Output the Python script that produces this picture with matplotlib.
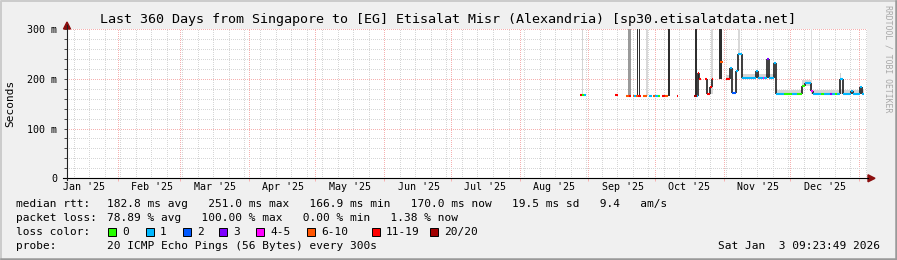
import matplotlib
matplotlib.use("Agg")
import matplotlib.pyplot as plt
from matplotlib.lines import Line2D
from matplotlib.patches import Rectangle, Polygon
import pandas as pd

plt.rcParams["font.family"] = ["DejaVu Sans Mono"]

W, H = 897, 260

# loss colour legend
loss_labels = ["0", "1", "2", "3", "4-5", "6-10", "11-19", "20/20"]
loss_colors = ["#26ff00", "#00b8ff", "#0059ff", "#7e00ff",
               "#ff00ff", "#ff5500", "#ff0000", "#a10000"]

# median rtt, drawn as segments (ms) coloured by loss index
seg_start = ["2025-08-28 08", "2025-08-29 00", "2025-08-29 20", "2025-09-12 22",
             "2025-09-18 04", "2025-09-19 12", "2025-09-20 22", "2025-09-21 14",
             "2025-09-22 08", "2025-09-23 12", "2025-09-25 16", "2025-09-28 04",
             "2025-09-30 02", "2025-10-01 00", "2025-10-02 08", "2025-10-04 04",
             "2025-10-05 12", "2025-10-10 22", "2025-10-18 12", "2025-10-19 20",
             "2025-10-20 08", "2025-10-21 02", "2025-10-23 12", "2025-10-24 10",
             "2025-10-26 00", "2025-10-26 14", "2025-10-30 06", "2025-11-02 00",
             "2025-11-04 00", "2025-11-04 20", "2025-11-06 12", "2025-11-07 10",
             "2025-11-09 06", "2025-11-15 18", "2025-11-16 12", "2025-11-18 12",
             "2025-11-19 06", "2025-11-20 12", "2025-11-21 12", "2025-11-23 12",
             "2025-11-24 12", "2025-11-28 00", "2025-12-02 00", "2025-12-04 00",
             "2025-12-06 12", "2025-12-07 18", "2025-12-10 12", "2025-12-11 04",
             "2025-12-15 00", "2025-12-16 00", "2025-12-19 00", "2025-12-19 16",
             "2025-12-21 00", "2025-12-22 00", "2025-12-23 10", "2025-12-24 16",
             "2025-12-28 10", "2025-12-29 06", "2026-01-01 12", "2026-01-02 06"]
seg_end = ["2025-08-29 00", "2025-08-29 20", "2025-08-31 00", "2025-09-14 04",
           "2025-09-19 12", "2025-09-20 10", "2025-09-21 14", "2025-09-22 08",
           "2025-09-23 12", "2025-09-24 12", "2025-09-27 14", "2025-09-29 16",
           "2025-10-01 00", "2025-10-02 08", "2025-10-03 02", "2025-10-05 12",
           "2025-10-07 00", "2025-10-11 12", "2025-10-19 20", "2025-10-20 08",
           "2025-10-21 02", "2025-10-21 20", "2025-10-24 10", "2025-10-26 00",
           "2025-10-26 14", "2025-10-27 04", "2025-10-31 12", "2025-11-04 00",
           "2025-11-04 20", "2025-11-06 12", "2025-11-07 10", "2025-11-09 06",
           "2025-11-15 18", "2025-11-16 12", "2025-11-18 12", "2025-11-19 06",
           "2025-11-20 12", "2025-11-21 12", "2025-11-23 12", "2025-11-24 12",
           "2025-11-28 00", "2025-12-02 00", "2025-12-04 00", "2025-12-06 12",
           "2025-12-07 18", "2025-12-10 12", "2025-12-11 04", "2025-12-15 00",
           "2025-12-16 00", "2025-12-19 00", "2025-12-19 16", "2025-12-21 00",
           "2025-12-22 00", "2025-12-23 10", "2025-12-24 16", "2025-12-28 10",
           "2025-12-29 06", "2026-01-01 12", "2026-01-02 06", "2026-01-03 09"]
seg_rtt = [167, 167, 167, 167, 166, 166, 166, 166, 166, 166, 166, 166,
           166, 166, 166, 166, 166, 166, 166, 165, 212, 200, 200, 169,
           183, 200, 233, 200, 222, 172, 216, 249, 201, 216, 201, 201,
           201, 240, 201, 232, 169, 169, 169, 169, 186, 192, 176, 169,
           169, 169, 169, 169, 169, 169, 200, 169, 176, 169, 184, 170]
seg_loss = [6, 0, 1, 6, 5, 6, 5, 1, 5, 6, 5, 1,
            5, 1, 0, 6, 5, 6, 7, 1, 6, 6, 6, 6,
            6, 6, 5, 6, 1, 2, 1, 1, 1, 1, 1, 4,
            1, 3, 1, 1, 1, 0, 1, 0, 0, 1, 4, 1,
            0, 1, 3, 1, 0, 1, 1, 1, 1, 1, 1, 1]

# tall smoke columns (pings far above the median)
spike_start = ["2025-08-29 06", "2025-09-19 00", "2025-09-22 20", "2025-09-23 18",
               "2025-09-26 18", "2025-10-07 00", "2025-10-18 20", "2025-10-26 08",
               "2025-10-30 00", "2025-11-07 12", "2025-12-10 06", "2025-12-23 12"]
spike_end = ["2025-08-29 18", "2025-09-20 10", "2025-09-23 08", "2025-09-24 06",
             "2025-09-27 16", "2025-10-07 20", "2025-10-20 00", "2025-10-27 08",
             "2025-10-31 10", "2025-11-08 04", "2025-12-10 20", "2025-12-24 00"]
spike_low = [167, 166, 166, 166, 166, 166, 166, 169, 200, 249, 176, 200]
spike_high = [300, 300, 300, 300, 300, 300, 300, 300, 300, 300, 300, 212]
spike_shade = ["#d4d4d4", "#9a9a9a", "#333333", "#333333", "#d8d8d8", "#2e2e2e",
               "#2e2e2e", "#d8d8d8", "#2e2e2e", "#d8d8d8", "#dcdcdc", "#d0d0d0"]

# light smoke band just above the median
smoke_start = ["2025-11-02 00", "2025-11-09 06", "2025-11-24 12", "2025-12-06 12", "2025-12-10 12"]
smoke_end = ["2025-11-04 00", "2025-11-24 12", "2025-12-06 12", "2025-12-10 12", "2026-01-03 09"]
smoke_low = [200, 201, 169, 186, 169]
smoke_high = [207, 210, 177, 197, 177]

y_ticks = [0, 100, 200, 300]
y_labels = ["0", "100 m", "200 m", "300 m"]


def px(x, y):
    return x / W, 1 - y / H


fig = plt.figure(figsize=(W / 100, H / 100), dpi=100, facecolor="#f0f0f0")
x0, y0 = 67, 178.3
ax = fig.add_axes([x0 / W, 1 - y0 / H, 800 / W, (y0 - 29) / H])
ax.set_facecolor("white")
t0 = pd.Timestamp("2025-01-09 00:00")
t1 = pd.Timestamp("2026-01-04 14:00")
ax.set_xlim(t0, t1)
ax.set_ylim(0, 300)
for s in ax.spines.values():
    s.set_visible(False)

# grid
dot = (0, (1, 2))
minor_c, major_c = "#d6d6d6", "#f6b0b0"
month_starts = pd.date_range("2025-02-01", "2026-01-01", freq="MS")
weeks = pd.date_range(t0, t1, freq="W-SUN")
for d in weeks:
    ax.axvline(d, color=minor_c, lw=0.72, ls=dot, zorder=0, antialiased=False)
for d in month_starts:
    ax.axvline(d, color=major_c, lw=0.72, ls=dot, zorder=0, antialiased=False)
for v in range(20, 300, 20):
    if v % 100:
        ax.axhline(v, color=minor_c, lw=0.72, ls=dot, zorder=0, antialiased=False)
for v in (100, 200, 300):
    ax.axhline(v, color=major_c, lw=0.72, ls=dot, zorder=0, antialiased=False)

# smoke
for s, e, lo, hi in zip(smoke_start, smoke_end, smoke_low, smoke_high):
    ax.fill_between([pd.Timestamp(s), pd.Timestamp(e)], lo, hi,
                    color="#d6d6d6", lw=0, zorder=1)
for s, e, lo, hi, c in zip(spike_start, spike_end, spike_low, spike_high, spike_shade):
    ax.fill_between([pd.Timestamp(s), pd.Timestamp(e)], lo, hi,
                    color=c, lw=0, zorder=2)

# connectors between consecutive medians
for i in range(len(seg_rtt) - 1):
    if seg_end[i] == seg_start[i + 1] and seg_rtt[i] != seg_rtt[i + 1]:
        ax.vlines(pd.Timestamp(seg_end[i]), min(seg_rtt[i], seg_rtt[i + 1]),
                  max(seg_rtt[i], seg_rtt[i + 1]), color="#1e1e1e", lw=1.2, zorder=3)

# median coloured by loss
ax.hlines(seg_rtt, pd.to_datetime(seg_start), pd.to_datetime(seg_end),
          colors=[loss_colors[k] for k in seg_loss], lw=1.5, zorder=4,
          capstyle="butt")

# ticks
ax.set_yticks(y_ticks, y_labels)
ax.set_yticks(range(0, 301, 20), minor=True)
mid_months = pd.date_range("2025-01-01", "2025-12-01", freq="MS") + pd.Timedelta(days=15, hours=12)
ax.set_xticks(mid_months, [d.strftime("%b '%y") for d in mid_months])
ax.set_xticks(month_starts, minor=True)
ax.tick_params(axis="x", which="major", length=0, pad=3, labelsize=7.2)
ax.tick_params(axis="x", which="minor", length=2.2, width=0.72, direction="out", color=major_c)
ax.tick_params(axis="y", which="both", length=2.5, width=0.72, direction="out",
               pad=4.5, labelsize=7.2, color="#505050")

# axes lines and arrows
fig.add_artist(Line2D(*zip(px(63, y0), px(868, y0)), color="black", lw=0.8))
fig.add_artist(Line2D(*zip(px(x0, y0 + 2), px(x0, 25)), color="#202020", lw=0.8))
fig.add_artist(Polygon([px(868, y0 - 3.5), px(875, y0), px(868, y0 + 3.5)],
                       closed=True, color="#8b0e0e", transform=fig.transFigure))
fig.add_artist(Polygon([px(x0 - 3.5, 29), px(x0, 22), px(x0 + 3.5, 29)],
                       closed=True, color="#8b0e0e", transform=fig.transFigure))

# titles
fig.text(*px(447.5, 19), "Last 360 Days from Singapore to [EG] Etisalat Misr (Alexandria) [sp30.etisalatdata.net]",
         ha="center", va="center", fontsize=9.6)
fig.text(*px(10, 103), "Seconds", rotation=90, ha="center", va="center", fontsize=8)
fig.text(*px(888, 5), "RRDTOOL / TOBI OETIKER", rotation=270, ha="center", va="top",
         fontsize=5.9, color="#a8a8a8")

# legend
fs = 8
fig.text(*px(16, 204.3), "median rtt:", va="center", fontsize=fs)
fig.text(*px(107, 204.3), "182.8 ms avg   251.0 ms max   166.9 ms min   170.0 ms now   19.5 ms sd   9.4   am/s",
         va="center", fontsize=fs)
fig.text(*px(16, 218.3), "packet loss:", va="center", fontsize=fs)
fig.text(*px(107, 218.3), "78.89 % avg   100.00 % max   0.00 % min   1.38 % now",
         va="center", fontsize=fs)
fig.text(*px(16, 232.3), "loss color:", va="center", fontsize=fs)
box_x = [108, 146, 183, 219, 256, 307, 372, 430]
for bx, lab, col in zip(box_x, loss_labels, loss_colors):
    fig.add_artist(Rectangle(px(bx, 236.3), 8 / W, 8 / H, transform=fig.transFigure,
                             facecolor=col, edgecolor="black", lw=0.7))
    fig.text(*px(bx + 14, 232.3), lab, va="center", fontsize=fs)
fig.text(*px(16, 246), "probe:", va="center", fontsize=fs)
fig.text(*px(107, 246), "20 ICMP Echo Pings (56 Bytes) every 300s", va="center", fontsize=fs)
fig.text(*px(880, 246), "Sat Jan  3 09:23:49 2026", ha="right", va="center", fontsize=fs)

# frame
fig.add_artist(Line2D(*zip(px(0.5, H - 1), px(0.5, 0.5), px(W - 1, 0.5)), color="#cbcbcb", lw=1.4))
fig.add_artist(Line2D(*zip(px(1, H - 1), px(W - 1, H - 1), px(W - 1, 1)), color="#999999", lw=1.8))

fig.savefig("out.png", dpi=100, facecolor=fig.get_facecolor())
